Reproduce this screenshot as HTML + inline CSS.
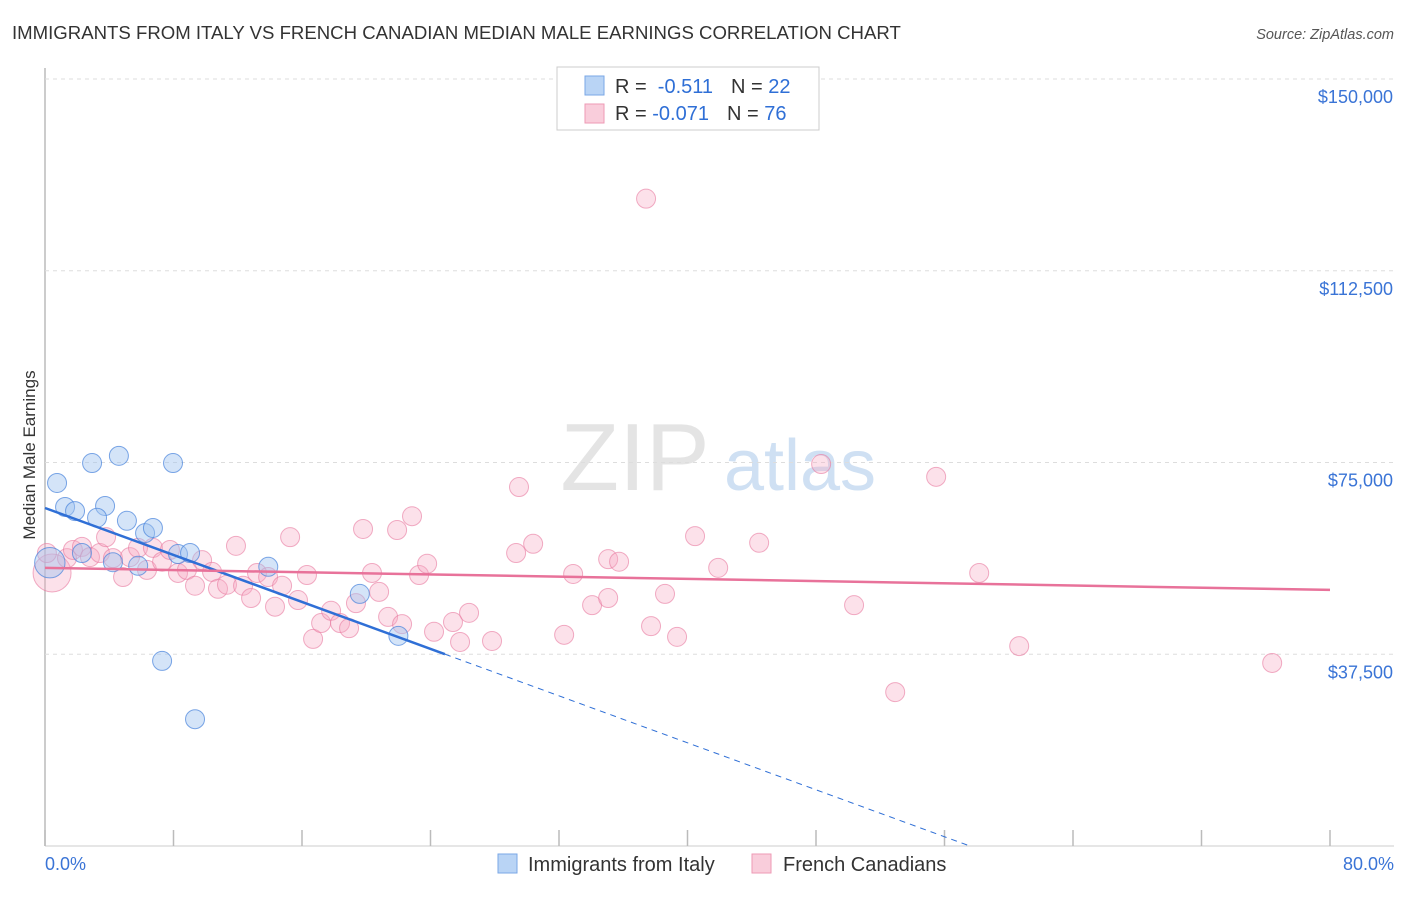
<!DOCTYPE html>
<html><head><meta charset="utf-8"><style>
body{margin:0;background:#fff;font-family:"Liberation Sans",sans-serif;}
svg text{font-family:"Liberation Sans",sans-serif;}
</style></head><body>
<svg id="c" width="1406" height="892">
<text x="12" y="39" font-size="18.6" fill="#333">IMMIGRANTS FROM ITALY VS FRENCH CANADIAN MEDIAN MALE EARNINGS CORRELATION CHART</text>
<text x="1394" y="39" font-size="14.5" fill="#555" font-style="italic" text-anchor="end">Source: ZipAtlas.com</text>
<text x="35" y="455" font-size="17" fill="#333" text-anchor="middle" transform="rotate(-90 35 455)">Median Male Earnings</text>
<g><text x="635" y="490" font-size="96" fill="#e4e4e4" font-family="Liberation Serif" text-anchor="middle">ZIP</text><text x="800" y="490" font-size="72" fill="#cfe0f3" text-anchor="middle">atlas</text></g>
<g id="grid"></g><g id="marks"></g>
<g>
<rect x="557" y="67" width="262" height="63" fill="#fff" stroke="#ccc"/>
<rect x="585" y="76" width="19" height="19" fill="#b9d4f5" stroke="#7aa7e6"/>
<rect x="585" y="104" width="19" height="19" fill="#f9cddb" stroke="#ee9ab5"/>
<text x="615" y="93" font-size="20" fill="#333">R = <tspan fill="#2f6fd6">&#160;-0.511</tspan><tspan dx="18" fill="#333">N = </tspan><tspan fill="#2f6fd6">22</tspan></text>
<text x="615" y="120" font-size="20" fill="#333">R = <tspan fill="#2f6fd6">-0.071</tspan><tspan dx="18" fill="#333">N = </tspan><tspan fill="#2f6fd6">76</tspan></text>
</g>
<g>
<rect x="498" y="854" width="19" height="19" fill="#b9d4f5" stroke="#7aa7e6"/>
<text x="528" y="871" font-size="20" fill="#333">Immigrants from Italy</text>
<rect x="752" y="854" width="19" height="19" fill="#f9cddb" stroke="#ee9ab5"/>
<text x="783" y="871" font-size="20" fill="#333">French Canadians</text>
</g>
</svg>
<script>
const yTicks=[37500,75000,112500,150000];
const yTickLabels=["$37,500","$75,000","$112,500","$150,000"];
const xTickLabels=["0.0%","80.0%"];
const italyX=[0.75,1.25,1.87,2.93,4.6,7.97,3.74,3.24,5.1,6.23,6.72,2.3,4.23,5.8,8.28,9.03,13.9,19.6,22.0,7.29,9.34,0.3];
const italyY=[71000,66300,65500,74900,76300,74900,66500,64200,63600,61200,62200,57300,55500,54800,57100,57300,54600,49300,41100,36200,24800,55400];
const italySize=[1,1,1,1,1,1,1,1,1,1,1,1,1,1,1,1,1,1,1,1,1,1.6];
const frX=[0.44,1.37,1.74,2.30,2.80,3.42,3.80,4.23,4.86,5.29,5.79,6.35,6.72,7.29,7.78,8.28,8.84,9.34,9.78,10.40,10.77,11.33,11.89,12.33,12.83,13.20,13.89,14.32,14.76,15.26,15.75,16.31,16.69,17.19,17.81,18.37,18.93,19.36,19.80,20.36,20.80,21.36,21.92,22.23,22.85,23.29,23.79,24.22,25.40,25.84,26.40,27.83,29.33,29.51,30.39,32.32,32.88,34.06,35.06,35.06,35.74,37.42,37.73,38.60,39.35,40.47,41.91,44.46,48.32,50.37,52.93,55.48,58.16,60.65,76.4,0.12];
const frY=[53.4,56.3,57.9,58.5,56.5,57.3,60.4,56.3,52.6,56.5,58.3,54.0,58.3,55.6,57.9,53.4,54.0,50.9,55.9,53.6,50.3,51.1,58.7,50.9,48.5,53.4,52.6,46.8,50.9,60.4,48.1,53.0,40.5,43.6,46.0,43.6,42.6,47.5,62.0,53.4,49.7,44.8,61.8,43.4,64.5,53.0,55.2,41.9,43.8,39.9,45.6,40.1,57.3,70.2,59.1,41.3,53.2,47.1,48.5,56.1,55.6,126.6,43.0,49.3,40.9,60.6,54.4,59.3,74.7,47.1,30.1,72.2,53.4,39.1,35.8,57.3];
const frSize=[2,1,1,1,1,1,1,1,1,1,1,1,1,1,1,1,1,1,1,1,1,1,1,1,1,1,1,1,1,1,1,1,1,1,1,1,1,1,1,1,1,1,1,1,1,1,1,1,1,1,1,1,1,1,1,1,1,1,1,1,1,1,1,1,1,1,1,1,1,1,1,1,1,1,1,1];
const italyTrend=[66100,-1148];
const frTrend=[54400,-54];
const italySolidEnd=24.9;

const X0=45,X1=1330,Y0=846;
const xs=v=>X0+v*(X1-X0)/80;
const ys=v=>Y0-v*(Y0-79)/150000;
const NS="http://www.w3.org/2000/svg";
function mk(p,t,a){const e=document.createElementNS(NS,t);for(const k in a)e.setAttribute(k,a[k]);p.appendChild(e);return e;}
const g=document.getElementById('grid'),m=document.getElementById('marks');
mk(g,'line',{x1:X0,y1:68,x2:X0,y2:Y0,stroke:'#bbb','stroke-width':1.5});
mk(g,'line',{x1:X0,y1:Y0,x2:1394,y2:Y0,stroke:'#ccc'});
for(let i=0;i<=10;i++){const t=mk(g,'line',{x1:xs(i*8),y1:Y0,x2:xs(i*8),y2:Y0-16,stroke:'#bbb','stroke-width':1.5});

}
yTicks.forEach((v,i)=>{const l=mk(g,'line',{x1:X0,y1:ys(v),x2:1394,y2:ys(v),stroke:'#ddd','stroke-dasharray':'4,4'});


const t=mk(g,'text',{x:1393,y:ys(v)+24,'font-size':18,fill:'#3a74d6','text-anchor':'end'});t.textContent=yTickLabels[i];

});
[[0,'start',45],[80,'end',1394]].forEach((d,i)=>{const t=mk(g,'text',{x:d[2],y:870,'font-size':18,fill:'#3a74d6','text-anchor':d[1]});t.textContent=xTickLabels[i];

});
frX.forEach((x,i)=>{const c=mk(m,'circle',{cx:xs(x),cy:ys(frY[i]*1000),r:9.5*frSize[i],fill:'rgba(246,170,196,0.35)',stroke:'rgba(232,120,158,0.6)','stroke-width':1});

});
italyX.forEach((x,i)=>{const c=mk(m,'circle',{cx:xs(x),cy:ys(italyY[i]),r:9.5*italySize[i],fill:'rgba(160,196,240,0.45)',stroke:'rgba(70,130,220,0.7)','stroke-width':1});

});
const it=x=>italyTrend[0]+italyTrend[1]*x;
let l=mk(m,'line',{x1:xs(0),y1:ys(it(0)),x2:xs(italySolidEnd),y2:ys(it(italySolidEnd)),stroke:'#2f6fd6','stroke-width':2.5});


const xe=-italyTrend[0]/italyTrend[1];
l=mk(m,'line',{x1:xs(italySolidEnd),y1:ys(it(italySolidEnd)),x2:xs(xe),y2:ys(0),stroke:'#2f6fd6','stroke-width':1,'stroke-dasharray':'6,5'});


const ft=x=>frTrend[0]+frTrend[1]*x;
l=mk(m,'line',{x1:xs(0),y1:ys(ft(0)),x2:xs(80),y2:ys(ft(80)),stroke:'#e8729a','stroke-width':2.5});


</script>
</body></html>
